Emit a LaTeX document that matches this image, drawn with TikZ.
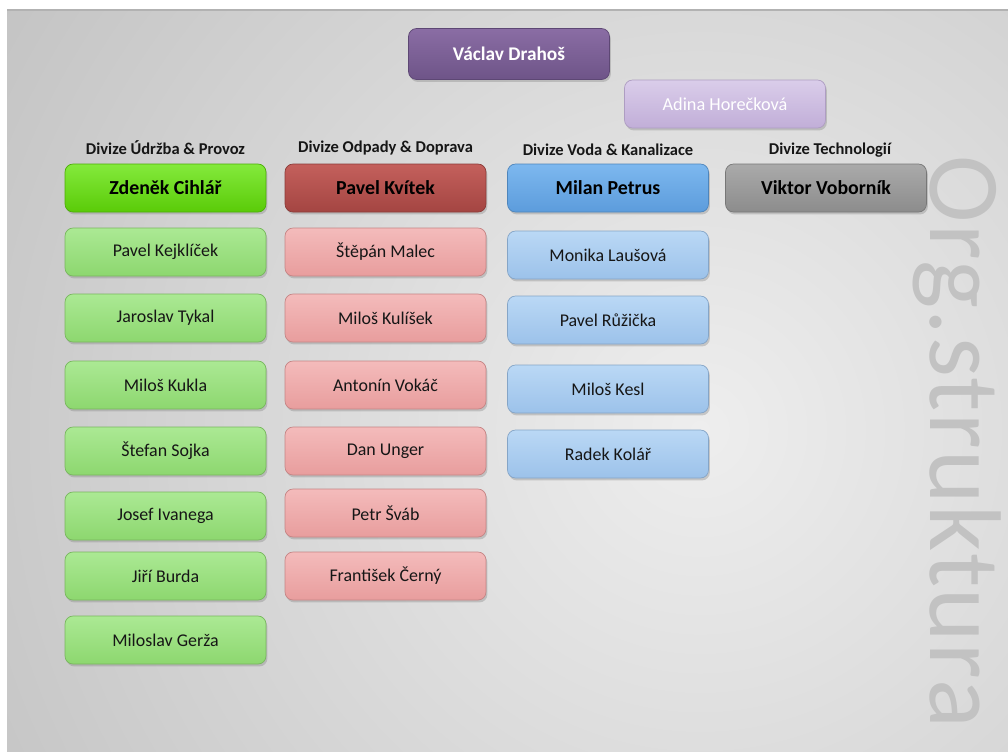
\documentclass[tikz,border=0pt]{standalone}
\usepackage{fontspec}
\setmainfont{Carlito}
\newfontfamily\markfont[LetterSpace=1.6]{Carlito}
\usetikzlibrary{shadows}
\definecolor{slidegray}{HTML}{A6A6A6}
\definecolor{slidelight}{HTML}{EEEEEE}
\definecolor{markgray}{HTML}{C2C2C2}
\definecolor{purpletop}{HTML}{8A6DA4}
\definecolor{purplebot}{HTML}{6E5488}
\definecolor{lilactop}{HTML}{DACDEA}
\definecolor{lilacbot}{HTML}{C1AED8}
\definecolor{greentop}{HTML}{84EA3C}
\definecolor{greenbot}{HTML}{5ACB08}
\definecolor{lgreentop}{HTML}{ABE994}
\definecolor{lgreenbot}{HTML}{8DD76F}
\definecolor{redtop}{HTML}{C4605C}
\definecolor{redbot}{HTML}{A44542}
\definecolor{lredtop}{HTML}{F4BBBB}
\definecolor{lredbot}{HTML}{E89D9D}
\definecolor{bluetop}{HTML}{7DB8EF}
\definecolor{bluebot}{HTML}{5C9CDC}
\definecolor{lbluetop}{HTML}{BAD8F5}
\definecolor{lbluebot}{HTML}{9CC2EA}
\definecolor{greytop}{HTML}{AAAAAA}
\definecolor{greybot}{HTML}{8C8C8C}
\definecolor{inkdark}{HTML}{161616}

\begin{document}
\begin{tikzpicture}[x=0.02cm,y=-0.02cm,
	box/.style={rounded corners=0.16cm,minimum width=4.02cm,minimum height=0.96cm,inner sep=0pt,
		line width=0.4pt,drop shadow={shadow xshift=0.8pt,shadow yshift=-1.4pt,opacity=0.35}},
	person/.style={box,font=\fontsize{10.2}{12}\selectfont,text=inkdark},
	chief/.style={box,font=\fontsize{11.3}{13}\selectfont\bfseries,text=black},
	division/.style={font=\fontsize{9.4}{11}\selectfont\bfseries,text=inkdark},
	boss/.style={box,minimum height=1.02cm,font=\fontsize{11}{13}\selectfont\bfseries,text=white,
		top color=purpletop,bottom color=purplebot,draw=purplebot!85!black},
	assistant/.style={box,font=\fontsize{10.4}{12}\selectfont,text=white,
		top color=lilactop,bottom color=lilacbot,draw=lilacbot!90!black},
	green/.style={chief,top color=greentop,bottom color=greenbot,draw=greenbot!85!black},
	lgreen/.style={person,top color=lgreentop,bottom color=lgreenbot,draw=lgreenbot!85!black},
	red/.style={chief,top color=redtop,bottom color=redbot,draw=redbot!85!black},
	lred/.style={person,top color=lredtop,bottom color=lredbot,draw=lredbot!85!black},
	blue/.style={chief,top color=bluetop,bottom color=bluebot,draw=bluebot!85!black},
	lblue/.style={person,top color=lbluetop,bottom color=lbluebot,draw=lbluebot!85!black},
	grey/.style={chief,top color=greytop,bottom color=greybot,draw=greybot!85!black}]
	\useasboundingbox (0,0) rectangle (1008,751);
	\fill[white] (0,0) rectangle (1008,751);
	\begin{scope}
		\clip (7,10) rectangle (1008,751);
		\fill[slidegray] (7,10) rectangle (1008,751);
		\shade[inner color=slidelight,outer color=slidegray] (700,430) circle (1400);
	\end{scope}
	\draw[line width=0.6pt,gray!60] (7,10) -- (1008,10);
	\node[markgray,font=\fontsize{58}{58}\markfont,rotate=-90,anchor=base west,inner sep=0pt] (mark) at (930,155) {Org.struktura};
	\node[boss] (vd) at (509,54) {Václav Drahoš};
	\node[assistant] (ah) at (725,104) {Adina Horečková};
	\node[division] (d1) at (165.5,148) {Divize Údržba \& Provoz};
	\node[division] (d2) at (385.5,148) {Divize Odpady \& Doprava};
	\node[division] (d3) at (608,150) {Divize Voda \& Kanalizace};
	\node[division] (d4) at (830,150) {Divize Technologií};
	\node[green] (zc) at (165.5,188) {Zdeněk Cihlář};
	\node[red] (pk) at (385.5,188) {Pavel Kvítek};
	\node[blue] (mp) at (608,188) {Milan Petrus};
	\node[grey] (vv) at (826,188) {Viktor Voborník};
	\node[lgreen] (g1) at (165.5,252) {Pavel Kejklíček};
	\node[lgreen] (g2) at (165.5,318) {Jaroslav Tykal};
	\node[lgreen] (g3) at (165.5,385) {Miloš Kukla};
	\node[lgreen] (g4) at (165.5,451) {Štefan Sojka};
	\node[lgreen] (g5) at (165.5,516) {Josef Ivanega};
	\node[lgreen] (g6) at (165.5,576) {Jiří Burda};
	\node[lgreen] (g7) at (165.5,640) {Miloslav Gerža};
	\node[lred] (r1) at (385.5,252) {Štěpán Malec};
	\node[lred] (r2) at (385.5,318) {Miloš Kulíšek};
	\node[lred] (r3) at (385.5,385) {Antonín Vokáč};
	\node[lred] (r4) at (385.5,451) {Dan Unger};
	\node[lred] (r5) at (385.5,513) {Petr Šváb};
	\node[lred] (r6) at (385.5,576) {František Černý};
	\node[lblue] (b1) at (608,255) {Monika Laušová};
	\node[lblue] (b2) at (608,320) {Pavel Růžička};
	\node[lblue] (b3) at (608,389) {Miloš Kesl};
	\node[lblue] (b4) at (608,454) {Radek Kolář};
\end{tikzpicture}
\end{document}
